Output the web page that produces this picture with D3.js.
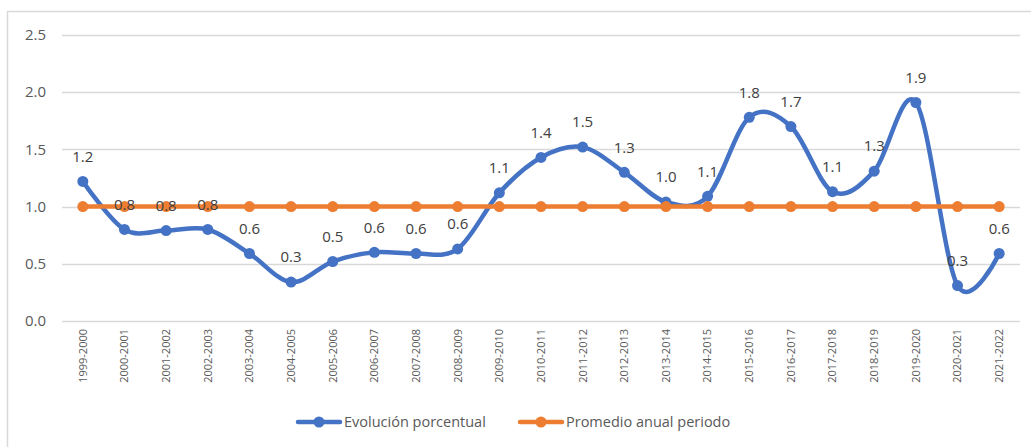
<!DOCTYPE html>
<html>
<head>
<meta charset="utf-8">
<script src="https://cdn.jsdelivr.net/npm/d3@7"></script>
<style>
  html, body { margin: 0; padding: 0; background: #fff; }
  svg { display: block; font-family: "Open Sans", sans-serif; }
</style>
</head>
<body>
<svg id="chart" width="1031" height="447"></svg>
<script>
// Periods (school years)
const periods = [
  "1999-2000","2000-2001","2001-2002","2002-2003","2003-2004","2004-2005",
  "2005-2006","2006-2007","2007-2008","2008-2009","2009-2010","2010-2011",
  "2011-2012","2012-2013","2013-2014","2014-2015","2015-2016","2016-2017",
  "2017-2018","2018-2019","2019-2020","2020-2021","2021-2022"
];
// Year-on-year percentage change
const evolucion = [
  1.22, 0.80, 0.79, 0.80, 0.59, 0.34, 0.52, 0.60, 0.59, 0.63, 1.12, 1.43,
  1.52, 1.30, 1.04, 1.09, 1.78, 1.70, 1.13, 1.31, 1.91, 0.31, 0.59
];
// Average annual change over the whole period
const promedio = [
  1.0, 1.0, 1.0, 1.0, 1.0, 1.0, 1.0, 1.0, 1.0, 1.0, 1.0, 1.0,
  1.0, 1.0, 1.0, 1.0, 1.0, 1.0, 1.0, 1.0, 1.0, 1.0, 1.0
];
const yTicks = [0, 0.5, 1.0, 1.5, 2.0, 2.5];
const seriesNames = ["Evolución porcentual", "Promedio anual periodo"];
const colors = ["#4472C4", "#ED7D31"];

const svg = d3.select("#chart");
const W = 1031, H = 447;
const plot = { left: 62, right: 1020, top: 35, bottom: 321 };

// Outer frame (top and left edges)
svg.append("path")
  .attr("d", `M7.5,${H} V11.5 H${W}`)
  .attr("fill", "none").attr("stroke", "#d9d9d9").attr("stroke-width", 1.5);

const x = d3.scaleBand().domain(periods).range([plot.left, plot.right]);
const y = d3.scaleLinear().domain([0, 2.5]).range([plot.bottom, plot.top]);
const cx = d => x(d) + x.bandwidth() / 2;

// Horizontal gridlines and y labels
const yAxis = svg.append("g");
yAxis.selectAll("line").data(yTicks).join("line")
  .attr("x1", plot.left).attr("x2", plot.right)
  .attr("y1", d => Math.round(y(d)) + 0.5).attr("y2", d => Math.round(y(d)) + 0.5)
  .attr("stroke", "#d9d9d9").attr("stroke-width", 1.5);
yAxis.selectAll("text").data(yTicks).join("text")
  .attr("x", 46).attr("y", d => y(d))
  .attr("dy", "0.35em").attr("text-anchor", "end")
  .attr("font-size", 15).attr("fill", "#595959")
  .text(d3.format(".1f"));

// Rotated category labels
svg.append("g").selectAll("text").data(periods).join("text")
  .attr("transform", d => `translate(${cx(d)},${plot.bottom + 8}) rotate(-90)`)
  .attr("text-anchor", "end").attr("dy", "0.35em")
  .attr("font-size", 11).attr("fill", "#595959")
  .text(d => d);

const line = d3.line()
  .x((d, i) => cx(periods[i]))
  .y(d => y(d))
  .curve(d3.curveCatmullRom.alpha(0));

function drawSeries(values, color) {
  const g = svg.append("g");
  g.append("path").datum(values)
    .attr("d", line).attr("fill", "none")
    .attr("stroke", color).attr("stroke-width", 4.5)
    .attr("stroke-linecap", "round").attr("stroke-linejoin", "round");
  g.selectAll("circle").data(values).join("circle")
    .attr("cx", (d, i) => cx(periods[i])).attr("cy", d => y(d))
    .attr("r", 5.5).attr("fill", color);
  return g;
}

drawSeries(evolucion, colors[0]);
drawSeries(promedio, colors[1]);

// Value labels above the blue series, drawn over both lines
svg.append("g").selectAll("text").data(evolucion).join("text")
  .attr("x", (d, i) => cx(periods[i]))
  .attr("y", d => y(d) - 25)
  .attr("dy", "0.35em").attr("text-anchor", "middle")
  .attr("font-size", 15).attr("fill", "#404040")
  .text(d => d3.format(".1f")(d));

// Legend
const legend = svg.append("g");
const legendItems = [
  { name: seriesNames[0], color: colors[0], x: 298 },
  { name: seriesNames[1], color: colors[1], x: 520 }
];
legendItems.forEach(it => {
  const g = legend.append("g").attr("transform", `translate(${it.x},422)`);
  g.append("line").attr("x1", 0).attr("x2", 42).attr("y1", 0).attr("y2", 0)
    .attr("stroke", it.color).attr("stroke-width", 4.5).attr("stroke-linecap", "round");
  g.append("circle").attr("cx", 21).attr("cy", 0).attr("r", 5.5).attr("fill", it.color);
  g.append("text").attr("x", 46).attr("dy", "0.35em")
    .attr("font-size", 14.5).attr("fill", "#595959").text(it.name);
});
</script>
</body>
</html>
